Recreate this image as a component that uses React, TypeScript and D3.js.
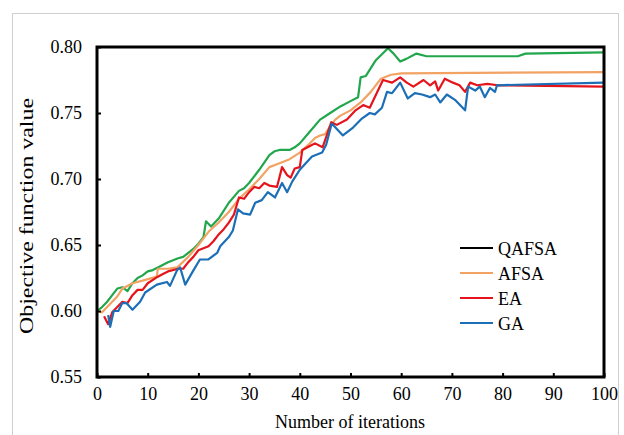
import React, { useEffect, useRef } from "react";
import * as d3 from "d3";

const xTicks = [0, 10, 20, 30, 40, 50, 60, 70, 80, 90, 100];
const yTicks = [0.55, 0.6, 0.65, 0.7, 0.75, 0.8];
const seriesNames = ["QAFSA", "AFSA", "EA", "GA"];
const lineColors = ["#22a64c", "#f2a263", "#e5141c", "#1c6fb6"];
const legendColors = ["#000000", "#f2a263", "#e5141c", "#1c6fb6"];

// [iteration, objective value]
const qafsa: [number, number][] = [
  [0, 0.6], [1, 0.603], [2, 0.607], [3, 0.612], [4, 0.617], [5, 0.618], [6, 0.615],
  [7, 0.621], [8, 0.625], [9, 0.627], [10, 0.63], [11, 0.631], [12, 0.633], [14, 0.637],
  [16, 0.64], [17, 0.641], [18, 0.644], [19, 0.647], [20, 0.651], [21, 0.656], [21.5, 0.668],
  [22.5, 0.664], [24, 0.67], [26, 0.682], [28, 0.691], [29, 0.693], [30, 0.697],
  [32, 0.707], [34, 0.718], [35, 0.721], [36, 0.722], [38, 0.722], [39, 0.724],
  [40, 0.727], [42, 0.736], [44, 0.745], [46, 0.75], [48, 0.755], [50, 0.759],
  [51.5, 0.762], [52, 0.777], [53, 0.778], [55, 0.79], [57.4, 0.799], [58.5, 0.795],
  [59.8, 0.789], [61, 0.791], [63, 0.795], [65, 0.793], [83, 0.793], [84.5, 0.795],
  [100, 0.796],
];

const afsa: [number, number][] = [
  [0, 0.6], [1, 0.599], [2, 0.603], [3, 0.607], [4, 0.611], [5, 0.617], [6, 0.619],
  [7, 0.621], [9, 0.623], [11.8, 0.626], [12, 0.632], [14, 0.632], [15.8, 0.633],
  [18, 0.641], [20, 0.65], [21, 0.655], [22, 0.66], [24, 0.667], [26, 0.675], [28, 0.685],
  [30, 0.692], [32, 0.7], [34, 0.709], [36, 0.712], [38, 0.715], [40, 0.72], [42, 0.727],
  [43, 0.731], [44, 0.733], [45, 0.734], [46, 0.74], [47, 0.745], [48, 0.748], [50, 0.752],
  [52, 0.758], [54, 0.766], [56, 0.776], [58, 0.779], [60, 0.78], [100, 0.781],
];

const ea: [number, number][] = [
  [1.4, 0.596], [2.2, 0.59], [3, 0.599], [4, 0.603], [5, 0.607], [6, 0.606], [7, 0.612],
  [8, 0.616], [9, 0.616], [10, 0.621], [12, 0.626], [13, 0.628], [14, 0.63], [16, 0.632],
  [17, 0.632], [18, 0.637], [19, 0.641], [20, 0.646], [22, 0.649], [23, 0.653], [24, 0.658],
  [25, 0.662], [26, 0.667], [27, 0.673], [28, 0.686], [29, 0.685], [30, 0.69], [31, 0.694],
  [32, 0.693], [33, 0.697], [34, 0.695], [35.5, 0.694], [36.5, 0.709], [37.5, 0.703],
  [38.2, 0.701], [39, 0.708], [40, 0.709], [40.5, 0.722], [42, 0.725], [43, 0.727],
  [44.5, 0.724], [46.2, 0.743], [47.3, 0.741], [49.3, 0.745], [51, 0.752], [52.5, 0.756],
  [53.8, 0.754], [56.4, 0.775], [58.2, 0.773], [59.8, 0.777], [61.1, 0.773], [62.4, 0.77],
  [64.4, 0.775], [65.7, 0.771], [66.7, 0.774], [67.3, 0.767], [68.6, 0.776], [70.2, 0.773],
  [71.5, 0.771], [72.6, 0.766], [73.6, 0.773], [75, 0.771], [77, 0.772], [79, 0.771],
  [100, 0.77],
];

const ga: [number, number][] = [
  [2.2, 0.597], [2.6, 0.588], [3.3, 0.6], [4.2, 0.6], [5, 0.606], [5.8, 0.606],
  [7, 0.601], [8.5, 0.607], [9.5, 0.614], [11.8, 0.62], [13.8, 0.622], [14.4, 0.619],
  [15.8, 0.631], [16.4, 0.633], [17.4, 0.62], [18.9, 0.63], [20.3, 0.639], [21.9, 0.639],
  [23.7, 0.644], [24.3, 0.649], [26, 0.656], [26.8, 0.661], [27.8, 0.677], [28.8, 0.674],
  [30.2, 0.673], [31.2, 0.682], [32.5, 0.684], [33.7, 0.69], [35.1, 0.686], [36.5, 0.697],
  [37.5, 0.69], [38.5, 0.698], [40, 0.707], [42.4, 0.717], [44.4, 0.72], [45.2, 0.726],
  [46.3, 0.742], [48.5, 0.733], [50.5, 0.739], [52.3, 0.746], [53.8, 0.75], [54.8, 0.749],
  [56.2, 0.754], [57.2, 0.766], [58.2, 0.765], [59.8, 0.773], [61.3, 0.761], [62.7, 0.765],
  [64.1, 0.764], [65.7, 0.762], [66.7, 0.764], [67.7, 0.758], [69, 0.764], [70.6, 0.76],
  [72.6, 0.752], [73.2, 0.77], [74.6, 0.767], [75.5, 0.77], [76.5, 0.762], [77.5, 0.769],
  [78.5, 0.766], [78.9, 0.771], [100, 0.773],
];

const seriesData = [qafsa, afsa, ea, ga];

const App = () => {
  const svgRef = useRef<SVGSVGElement>(null);

  useEffect(() => {
    const svg = d3.select(svgRef.current);
    svg.selectAll("*").remove();

    const width = 624;
    const height = 435;
    const margin = { top: 47, right: 20, bottom: 58, left: 97 };
    const font = "Liberation Serif, Times New Roman, serif";

    // outer light frame
    svg.append("rect")
      .attr("x", 12.5).attr("y", 13.5)
      .attr("width", 606).attr("height", height)
      .attr("fill", "#fff").attr("stroke", "#cfcfcf").attr("stroke-width", 1);

    const xScale = d3.scaleLinear().domain([0, 100]).range([margin.left, width - margin.right]);
    const yScale = d3.scaleLinear().domain([0.55, 0.8]).range([height - margin.bottom, margin.top]);

    const line = d3.line<[number, number]>()
      .x((d) => xScale(d[0]))
      .y((d) => yScale(d[1]))
      .curve(d3.curveLinear);

    // series lines
    seriesData.forEach((data, i) => {
      svg.append("path")
        .datum(data)
        .attr("fill", "none")
        .attr("stroke", lineColors[i])
        .attr("stroke-width", 2.2)
        .attr("stroke-linejoin", "round")
        .attr("d", line);
    });

    // plot frame
    svg.append("rect")
      .attr("x", xScale(0)).attr("y", yScale(0.8))
      .attr("width", xScale(100) - xScale(0))
      .attr("height", yScale(0.55) - yScale(0.8))
      .attr("fill", "none").attr("stroke", "#000").attr("stroke-width", 3);

    // x axis ticks (inside) + labels
    svg.append("g")
      .attr("transform", `translate(0,${yScale(0.55)})`)
      .call(d3.axisBottom(xScale).tickValues(xTicks).tickSize(-4).tickPadding(10).tickFormat(d3.format("d")))
      .attr("font-family", font).attr("font-size", 18)
      .call((g) => g.select(".domain").remove())
      .call((g) => g.selectAll(".tick line").attr("stroke", "#000").attr("stroke-width", 2))
      .call((g) => g.selectAll("text").style("font-family", font).attr("font-size", 18).attr("fill", "#000"));

    // y axis ticks (inside) + labels
    svg.append("g")
      .attr("transform", `translate(${xScale(0)},0)`)
      .call(d3.axisLeft(yScale).tickValues(yTicks).tickSize(-4).tickPadding(15).tickFormat(d3.format(".2f")))
      .attr("font-family", font).attr("font-size", 18)
      .call((g) => g.select(".domain").remove())
      .call((g) => g.selectAll(".tick line").attr("stroke", "#000").attr("stroke-width", 2))
      .call((g) => g.selectAll("text").style("font-family", font).attr("font-size", 18).attr("fill", "#000"));

    // axis titles
    svg.append("text")
      .attr("x", 350).attr("y", 428)
      .attr("text-anchor", "middle")
      .style("font-family", font).attr("font-size", 18)
      .text("Number of iterations");

    svg.append("text")
      .attr("transform", "translate(33,216) rotate(-90)")
      .attr("text-anchor", "middle")
      .style("font-family", font).attr("font-size", 18.5)
      .attr("textLength", 236).attr("lengthAdjust", "spacingAndGlyphs")
      .text("Objective function value");

    // legend
    const legend = svg.append("g").attr("transform", "translate(460,248)");
    seriesNames.forEach((name, i) => {
      const row = legend.append("g").attr("transform", `translate(0,${i * 25})`);
      row.append("line")
        .attr("x1", 0).attr("x2", 33).attr("y1", 0).attr("y2", 0)
        .attr("stroke", legendColors[i]).attr("stroke-width", 2);
      row.append("text")
        .attr("x", 38).attr("y", 6.5)
        .style("font-family", font).attr("font-size", 18)
        .text(name);
    });
  }, []);

  return (
    <svg
      ref={svgRef}
      width={624}
      height={435}
      style={{ position: "absolute", left: 0, top: 0, background: "#fff" }}
    />
  );
};

export default App;
